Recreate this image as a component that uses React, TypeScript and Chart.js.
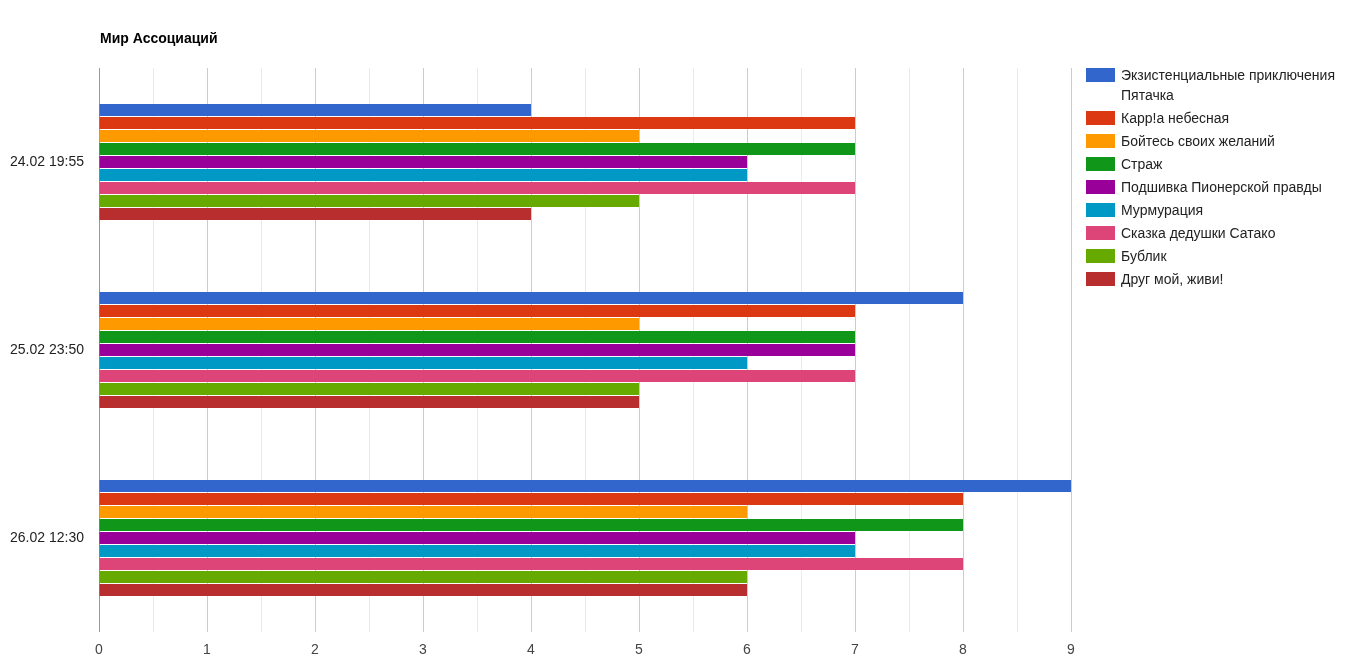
import React, { useEffect, useRef } from "react";
import { Chart, registerables } from "chart.js";

Chart.register(...registerables);

const title = "Мир Ассоциаций";
const categories = ["24.02 19:55", "25.02 23:50", "26.02 12:30"];
const seriesNames = [
  "Экзистенциальные приключения Пятачка",
  "Карр!а небесная",
  "Бойтесь своих желаний",
  "Страж",
  "Подшивка Пионерской правды",
  "Мурмурация",
  "Сказка дедушки Сатако",
  "Бублик",
  "Друг мой, живи!",
];
const seriesColors = [
  "#3366cc",
  "#dc3912",
  "#ff9900",
  "#109618",
  "#990099",
  "#0099c6",
  "#dd4477",
  "#66aa00",
  "#b82e2e",
];
const s1 = [4, 8, 9];
const s2 = [7, 7, 8];
const s3 = [5, 5, 6];
const s4 = [7, 7, 8];
const s5 = [6, 7, 7];
const s6 = [6, 6, 7];
const s7 = [7, 7, 8];
const s8 = [5, 5, 6];
const s9 = [4, 5, 6];
const seriesValues = [s1, s2, s3, s4, s5, s6, s7, s8, s9];
const xMin = 0;
const xMax = 9;

const FONT = "Arial, 'Liberation Sans', sans-serif";

export default function App() {
  const ref = useRef<HTMLCanvasElement | null>(null);

  useEffect(() => {
    if (!ref.current) return;
    const chart = new Chart(ref.current, {
      type: "bar",
      data: {
        labels: categories,
        datasets: seriesNames.map((name, i) => ({
          label: name,
          data: seriesValues[i],
          backgroundColor: seriesColors[i],
          borderWidth: 0,
          categoryPercentage: 0.622,
          barPercentage: 0.93,
        })),
      },
      options: {
        indexAxis: "y",
        animation: false,
        responsive: false,
        maintainAspectRatio: false,
        events: [],
        layout: { padding: { top: 68, right: 293, left: 0, bottom: 0 } },
        plugins: {
          legend: { display: false },
          title: { display: false },
          tooltip: { enabled: false },
        },
        scales: {
          x: {
            type: "linear",
            min: xMin,
            max: xMax,
            border: { display: false },
            grid: {
              drawTicks: false,
              color: (ctx: any) => {
                const v = ctx.tick ? ctx.tick.value : 1;
                if (v === 0) return "#999999";
                return Number.isInteger(v) ? "#cccccc" : "#ebebeb";
              },
              lineWidth: 1,
            },
            ticks: {
              stepSize: 0.5,
              autoSkip: false,
              maxRotation: 0,
              padding: 10,
              color: "#444444",
              font: { family: FONT, size: 14 },
              callback: (v: any) => (Number.isInteger(Number(v)) ? String(v) : ""),
            },
            afterFit: (scale: any) => {
              scale.height = 32;
            },
          },
          y: {
            border: { display: false },
            grid: { display: false, drawTicks: false },
            ticks: {
              padding: 15,
              color: "#222222",
              font: { family: FONT, size: 14 },
            },
            afterFit: (scale: any) => {
              scale.width = 99;
            },
          },
        },
      },
    });
    return () => chart.destroy();
  }, []);

  return (
    <div
      style={{
        position: "fixed",
        left: 0,
        top: 0,
        width: 1364,
        height: 664,
        background: "#ffffff",
        fontFamily: FONT,
      }}
    >
      <canvas
        ref={ref}
        width={1364}
        height={664}
        style={{ position: "absolute", left: 0, top: 0, width: 1364, height: 664 }}
      />
      <div
        style={{
          position: "absolute",
          left: 100,
          top: 30,
          fontSize: 14,
          fontWeight: "bold",
          color: "#000000",
          lineHeight: "16px",
        }}
      >
        {title}
      </div>
      <div style={{ position: "absolute", left: 1086, top: 65 }}>
        {seriesNames.map((name, i) => (
          <div
            key={name}
            style={{ display: "flex", alignItems: "flex-start", marginBottom: 3 }}
          >
            <div
              style={{
                width: 29,
                height: 14,
                marginTop: 3,
                background: seriesColors[i],
                flex: "0 0 auto",
              }}
            />
            <div
              style={{
                marginLeft: 6,
                width: 235,
                fontSize: 14,
                lineHeight: "20px",
                color: "#222222",
              }}
            >
              {name}
            </div>
          </div>
        ))}
      </div>
    </div>
  );
}
